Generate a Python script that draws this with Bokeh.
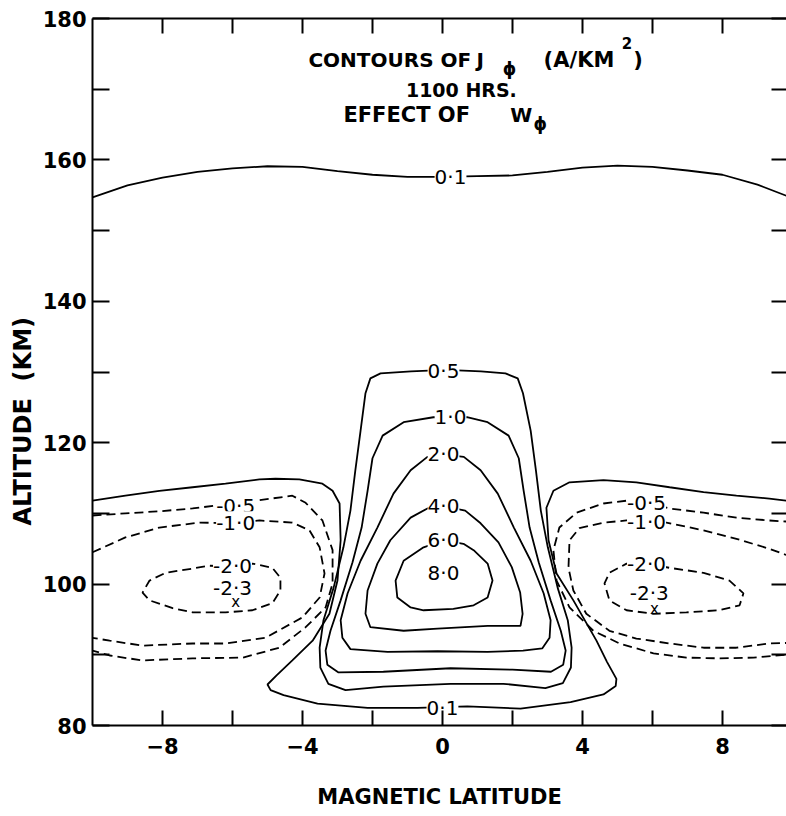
from bokeh.plotting import figure
from bokeh.models import LinearAxis, FixedTicker, Range1d, Title
from bokeh.embed import file_html
from bokeh.resources import INLINE
from bokeh.core.properties import value

FONT = "DejaVu Sans"

# ---------------- data ----------------
x_ticks = [-8, -4, 0, 4, 8]
x_minor = [-6, -2, 2, 6]
y_ticks = [80, 100, 120, 140, 160, 180]
y_minor = [90, 110, 130, 150, 170]
edge_ticks_x = [-8, -6, -4, -2, 0, 2, 4, 6, 8]
edge_ticks_y = [80, 90, 100, 110, 120, 130, 140, 150, 160, 170, 180]

# upper 0.1 contour
top01_x = [-10, -9, -8, -7, -6, -5, -4, -3, -2, -1, 0, 1, 2, 3, 4, 5, 6, 7, 8, 9, 10]
top01_y = [154.7, 156.4, 157.5, 158.3, 158.8, 159.1, 159.0, 158.4, 157.9, 157.6, 157.6,
           157.7, 157.8, 158.3, 158.9, 159.2, 159.0, 158.5, 157.9, 156.5, 154.6]

# outer solid contour (lobe tops + lower 0.1 around the central blob)
outer_x = [-10, -9.06, -8.09, -7.14, -6.2, -5.23, -4.77, -4.09, -3.43, -3.14, -2.94, -2.91,
           -3.0, -3.23, -3.71, -4.29, -4.74, -5.0, -4.91, -4.54, -3.57, -2.14, -0.71, 0.71,
           2.23, 3.66, 4.6, 4.95, 4.97, 4.7, 4.4, 3.74, 3.26, 3.03, 2.97, 3.17, 3.63, 4.6,
           5.54, 6.49, 7.46, 8.4, 9.34, 10]
outer_y = [111.8, 112.5, 113.2, 113.7, 114.2, 114.8, 114.9, 114.8, 114.2, 113.2, 111.4, 106.2,
           100.5, 95.8, 92.0, 89.2, 87.1, 85.8, 85.0, 84.3, 83.1, 82.5, 82.5, 82.7,
           82.4, 83.3, 84.4, 85.6, 86.6, 89.0, 92.0, 97.7, 101.5, 106.2, 110.8, 113.2, 114.4, 114.7,
           114.4, 113.7, 113.0, 112.5, 112.1, 111.7]

# central positive contours (closed)
c05_x = [0.1, -0.9, -1.77, -2.06, -2.2, -2.34, -2.49, -2.63, -2.83, -3.11, -3.4, -3.51, -3.49,
         -3.26, -2.77, -1.69, 0.23, 1.74, 2.94, 3.44, 3.67, 3.69, 3.58, 3.29, 3.01, 2.81, 2.67,
         2.52, 2.3, 2.15, 1.8, 1.1, 0.1]
c05_y = [130.3, 130.1, 129.8, 129.1, 127.0, 121.7, 116.1, 110.4, 105.2, 99.5, 94.9, 91.0, 88.2,
         85.9, 85.0, 85.5, 85.9, 85.9, 85.3, 86.0, 88.2, 91.0, 94.9, 99.5, 105.2, 110.4, 116.1,
         121.7, 127.0, 129.1, 129.8, 130.1, 130.3]

c10_x = [0.2, -0.26, -1.11, -1.71, -2.0, -2.14, -2.31, -2.57, -2.91, -3.2, -3.34, -3.29, -2.97,
         -1.69, 0.23, 2.0, 3.1, 3.45, 3.52, 3.38, 3.09, 2.75, 2.49, 2.32, 2.18, 1.89, 1.29, 0.7, 0.2]
c10_y = [123.6, 123.6, 122.9, 121.0, 117.8, 113.2, 108.0, 103.1, 97.7, 93.4, 90.6, 88.6, 87.5,
         87.6, 88.1, 87.9, 87.6, 88.6, 90.6, 93.4, 97.7, 103.1, 108.0, 113.2, 117.8, 121.0, 122.9,
         123.6, 123.6]

c20_x = [0.05, -0.43, -0.91, -1.4, -1.86, -2.34, -2.71, -2.91, -2.86, -2.63, -1.57, -0.14, 1.29,
         2.3, 2.85, 3.06, 3.09, 2.89, 2.52, 2.04, 1.58, 1.09, 0.61, 0.05]
c20_y = [118.3, 118.0, 116.1, 112.8, 108.0, 103.3, 98.7, 94.9, 92.4, 90.8, 90.4, 90.5, 90.4,
         90.6, 90.9, 92.4, 94.9, 98.7, 103.3, 108.0, 112.8, 116.1, 118.0, 118.3]

c40_x = [0.05, -0.43, -0.91, -1.49, -1.86, -2.14, -2.2, -2.06, -1.11, -0.14, 1.29, 2.23, 2.29,
         2.22, 1.98, 1.6, 1.09, 0.65, 0.05]
c40_y = [111.0, 110.7, 109.4, 106.2, 102.9, 99.1, 95.8, 93.9, 93.4, 93.7, 94.1, 94.1, 95.8,
         98.8, 102.4, 105.9, 108.6, 110.4, 111.0]

c60_x = [0.05, -0.54, -1.11, -1.34, -1.29, -0.91, -0.54, 0.31, 0.89, 1.29, 1.43, 1.29, 0.89, 0.6, 0.05]
c60_y = [106.2, 105.2, 103.3, 100.5, 98.1, 96.7, 96.3, 96.5, 97.0, 98.1, 100.5, 102.9, 104.8, 105.7, 106.2]

# left negative lobe (dashed)
ln05_x = [-10, -9.06, -8.09, -7.14, -6.49, -5.34, -4.29, -3.91, -3.43, -3.14, -3.14, -3.34,
          -3.91, -4.66, -5.71, -7.14, -8.57, -9.51, -10]
ln05_y = [109.7, 110.0, 110.3, 110.7, 111.1, 111.8, 112.5, 111.5, 109.0, 104.8, 100.1, 96.7,
          93.9, 91.0, 89.6, 89.5, 89.2, 89.9, 90.6]
ln10_x = [-10, -9.06, -8.09, -6.94, -5.91, -5.23, -4.29, -3.8, -3.51, -3.37, -3.51, -4.0,
          -5.06, -6.2, -7.14, -8.57, -9.51, -10]
ln10_y = [104.5, 106.6, 108.0, 108.7, 108.6, 109.0, 108.7, 107.6, 105.2, 101.5, 98.1, 95.3,
          92.4, 91.6, 91.6, 91.3, 92.0, 92.4]
ln20_x = [-6.0, -5.43, -4.86, -4.63, -4.63, -4.86, -5.43, -6.2, -7.14, -7.71, -8.37, -8.57,
          -8.37, -7.91, -7.14, -6.66, -6.0]
ln20_y = [102.5, 102.9, 102.3, 100.9, 99.1, 97.3, 96.3, 96.0, 96.0, 96.6, 97.7, 98.8,
          100.5, 101.6, 102.2, 102.6, 102.5]

# right negative lobe (dashed)
rn05_x = [10, 9.34, 8.4, 7.46, 6.49, 5.83, 5.26, 4.6, 3.83, 3.34, 3.17, 3.26, 3.63, 4.31,
          5.06, 6.03, 6.97, 7.91, 8.89, 10]
rn05_y = [108.8, 109.0, 109.4, 110.1, 110.7, 111.5, 111.8, 111.4, 110.1, 108.0, 104.8, 100.5,
          96.7, 93.4, 91.6, 90.2, 89.6, 89.5, 89.6, 90.1]
rn10_x = [10, 9.34, 8.4, 7.46, 6.4, 5.83, 5.26, 4.6, 3.91, 3.63, 3.6, 3.74, 4.11, 4.77, 5.54,
          6.49, 7.46, 8.4, 9.34, 10]
rn10_y = [103.8, 105.0, 106.4, 107.6, 108.7, 109.0, 109.0, 108.7, 107.9, 106.2, 102.3, 99.1,
          95.8, 93.4, 92.3, 91.6, 91.0, 91.0, 91.6, 91.7]
rn20_x = [5.83, 6.49, 7.46, 8.2, 8.6, 8.49, 7.91, 6.97, 6.03, 5.26, 4.77, 4.63, 4.77, 5.26, 5.83]
rn20_y = [102.9, 102.3, 101.6, 100.5, 98.7, 97.0, 96.3, 96.0, 95.8, 96.3, 97.7, 100.1, 101.6,
          102.9, 102.9]

# contour labels
lab_x = [0.23, 0.03, 0.23, 0.03, 0.03, 0.03, 0.03, 0.0,
         -5.91, -5.91, -6.0, -6.0, 5.83, 5.83, 5.83, 5.91]
lab_y = [157.6, 130.2, 123.6, 118.4, 111.1, 106.2, 101.5, 82.5,
         111.1, 108.6, 102.5, 99.4, 111.5, 108.8, 102.9, 98.8]
lab_t = ["0·1", "0·5", "1·0", "2·0", "4·0", "6·0", "8·0", "0·1",
         "-0·5", "-1·0", "-2·0", "-2·3", "-0·5", "-1·0", "-2·0", "-2·3"]
min_x = [-5.91, 6.06]
min_y = [97.4, 96.5]

# ---------------- figure ----------------
p = figure(frame_width=694, frame_height=707, x_range=Range1d(-10, 9.83), y_range=Range1d(80, 180),
           output_backend="svg", toolbar_location=None, min_border_left=92, min_border_right=0,
           min_border_top=18, min_border_bottom=90, outline_line_color=None)
p.grid.visible = False

xa = p.xaxis[0]
xa.ticker = FixedTicker(ticks=x_ticks, minor_ticks=x_minor)
ya = p.yaxis[0]
ya.ticker = FixedTicker(ticks=y_ticks, minor_ticks=y_minor)
for ax, tl in ((xa, 15), (ya, 17)):
    ax.major_tick_in = tl
    ax.major_tick_out = 0
    ax.minor_tick_in = tl
    ax.minor_tick_out = 0
    ax.axis_line_width = 2
    ax.major_tick_line_width = 2
    ax.minor_tick_line_width = 2
    ax.major_label_text_font = FONT
    ax.major_label_text_font_size = "21px"
    ax.major_label_text_font_style = "bold"
    ax.major_label_text_color = "black"
xa.major_label_standoff = 12
ya.major_label_standoff = 6
xa.axis_label = "MAGNETIC LATITUDE"
xa.axis_label_text_font = FONT
xa.axis_label_text_font_size = "21px"
xa.axis_label_text_font_style = "bold"
xa.axis_label_text_color = "black"
xa.axis_label_standoff = 28

top = LinearAxis(ticker=FixedTicker(ticks=edge_ticks_x), major_tick_in=15, major_tick_out=0,
                 minor_tick_out=0, minor_tick_in=0, axis_line_width=2, major_tick_line_width=2,
                 major_label_text_font_size="1px", major_label_text_color=None,
                 major_label_standoff=0)
p.add_layout(top, "above")
right = LinearAxis(ticker=FixedTicker(ticks=edge_ticks_y), major_tick_in=15, major_tick_out=0,
                   minor_tick_out=0, minor_tick_in=0, axis_line_color=None, major_tick_line_width=2,
                   major_label_text_font_size="1px", major_label_text_color=None,
                   major_label_standoff=0)
p.add_layout(right, "right")

# y-axis title, shifted below the frame centre as in the original
p.add_layout(Title(text="ALTITUDE\u00a0\u00a0(KM)", align="left", offset=200, standoff=6,
                   vertical_align="bottom", text_font=FONT, text_font_size="24px",
                   text_font_style="bold", text_color="black"), "left")

LW = 1.8
DASH = "9 5"
p.line(top01_x, top01_y, line_color="black", line_width=LW)
p.line(outer_x, outer_y, line_color="black", line_width=LW)
for cx, cy in ((c05_x, c05_y), (c10_x, c10_y), (c20_x, c20_y), (c40_x, c40_y), (c60_x, c60_y)):
    p.line(cx, cy, line_color="black", line_width=LW)
for cx, cy in ((ln05_x, ln05_y), (ln10_x, ln10_y), (ln20_x, ln20_y),
               (rn05_x, rn05_y), (rn10_x, rn10_y), (rn20_x, rn20_y)):
    p.line(cx, cy, line_color="black", line_width=LW, line_dash=DASH)

p.text(x=lab_x, y=lab_y, text=lab_t, text_font=value(FONT), text_font_size="20px",
       text_align="center", text_baseline="middle", text_color="black",
       background_fill_color="white")
p.text(x=min_x, y=min_y, text=["x", "x"], text_font=value(FONT), text_font_size="15px",
       text_align="center", text_baseline="middle", text_color="black")

# title block
def t(x, y, s, size="20px", align="left"):
    p.text(x=[x], y=[y], text=[s], text_font=value(FONT), text_font_size=size,
           text_font_style="bold", text_align=align, text_baseline="middle", text_color="black")

t(-3.83, 174.1, "CONTOURS OF")
t(0.97, 174.1, "J")
t(1.72, 172.9, "ϕ", size="17px")
t(2.89, 174.1, "(A/KM", size="21px")
t(5.12, 176.6, "2", size="15px")
t(5.45, 174.1, ")", size="21px")
t(0.54, 169.9, "1100 HRS.", size="19px", align="center")
t(-2.83, 166.4, "EFFECT OF", size="21px")
t(1.94, 166.4, "W")
t(2.6, 165.1, "ϕ", size="17px")

open("out.html", "w").write(file_html(p, INLINE))
